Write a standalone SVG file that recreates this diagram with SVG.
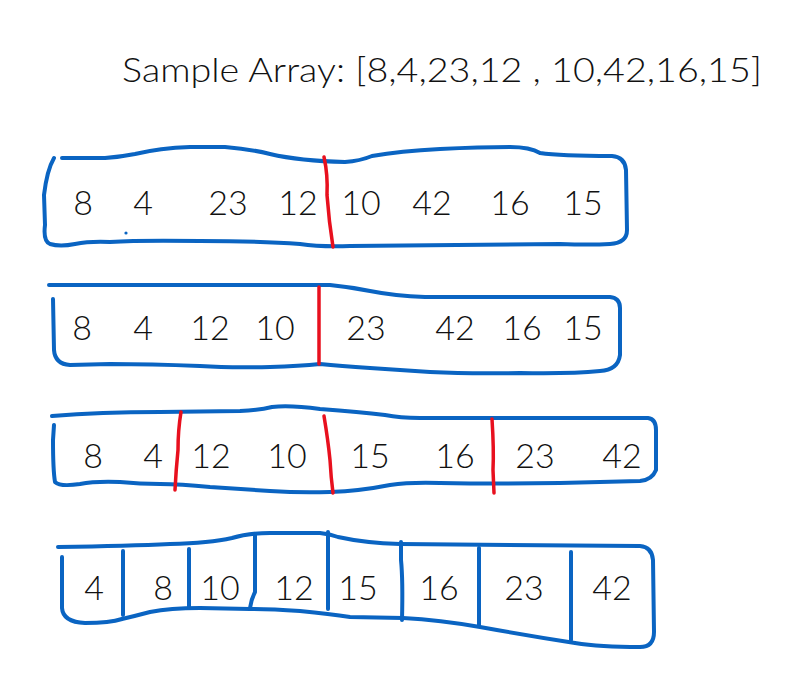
<svg xmlns="http://www.w3.org/2000/svg" width="805" height="689" viewBox="0 0 805 689">
<style>
.box{fill:none;stroke:#0a64c2;stroke-width:4;stroke-linecap:round;stroke-linejoin:round}
.red{fill:none;stroke:#e8101e;stroke-width:3.5;stroke-linecap:round}
.num{font-family:Lato,"Liberation Sans",sans-serif;font-weight:300;font-size:34px;fill:#111;text-anchor:middle}
.title{font-family:Lato,"Liberation Sans",sans-serif;font-weight:300;font-size:34px;fill:#111}
</style>
<rect width="805" height="689" fill="#fff"/>
<g id="title"><text class="title" x="122" y="82" textLength="640" lengthAdjust="spacingAndGlyphs">Sample Array: [8,4,23,12 , 10,42,16,15]</text></g>

<g id="row1">
<path class="box" d="M62,158 L105,158 Q120,157 135,154 Q160,148 190,147 L225,147 Q250,149 270,154 Q300,161 345,162 Q360,161 372,156 Q400,151 440,149 Q480,147 510,147 Q530,147 540,153 Q560,156 612,156 Q625,157 626,170 L627,230 Q627,243 610,244 Q590,245 560,244 L350,246 Q320,247 300,244 Q260,241 200,241 Q140,240 110,242 Q90,241 75,244 Q60,247 50,244 Q43,241 45,225 L44,195 Q47,170 54,158"/>
<path class="red" d="M324,157 Q328,175 327,195 Q329,222 333,247"/>
<circle cx="126" cy="233" r="1.6" fill="#0a64c2"/>
<text class="num" x="83" y="215">8</text>
<text class="num" x="143" y="215">4</text>
<text class="num" x="228" y="215">23</text>
<text class="num" x="298" y="215">12</text>
<text class="num" x="361" y="215">10</text>
<text class="num" x="432" y="215">42</text>
<text class="num" x="510" y="215">16</text>
<text class="num" x="583" y="215">15</text>
</g>

<g id="row2">
<path class="box" d="M49,285 L330,285 Q350,287 370,291 Q395,296 425,297 L610,297 Q620,298 620,308 L620,355 Q618,370 600,371 Q570,374 520,373 Q470,374 430,372 Q400,370 370,368 Q340,366 320,364 Q300,366 270,367 Q230,368 200,366 Q150,364 110,364 L70,365 Q55,364 54,350 L53,299"/>
<path class="red" d="M319,287 L319,364"/>
<text class="num" x="82" y="340">8</text>
<text class="num" x="143" y="340">4</text>
<text class="num" x="210" y="340">12</text>
<text class="num" x="275" y="340">10</text>
<text class="num" x="366" y="340">23</text>
<text class="num" x="455" y="340">42</text>
<text class="num" x="522" y="340">16</text>
<text class="num" x="583" y="340">15</text>
</g>

<g id="row3">
<path class="box" d="M52,416 Q100,412 160,412 L240,411 Q260,410 272,407 Q290,405 320,409 Q360,412 385,415 Q400,418 420,418 L648,418 Q656,419 656,430 L656,470 Q652,480 640,481 L560,483 Q500,484 440,483 Q410,482 390,485 Q360,491 330,492 Q300,493 270,491 Q240,489 210,487 Q180,484 160,484 Q140,484 120,482 Q95,481 80,484 Q60,487 55,482 Q53,470 53,440 L54,425"/>
<path class="red" d="M181,412 Q178,430 178,450 Q176,470 175,490"/>
<path class="red" d="M324,416 Q328,440 330,460 Q331,478 333,493"/>
<path class="red" d="M492,419 Q494,450 493,470 L494,493"/>
<text class="num" x="93" y="468">8</text>
<text class="num" x="153" y="468">4</text>
<text class="num" x="211" y="468">12</text>
<text class="num" x="287" y="468">10</text>
<text class="num" x="370" y="468">15</text>
<text class="num" x="455" y="468">16</text>
<text class="num" x="535" y="468">23</text>
<text class="num" x="622" y="468">42</text>
</g>

<g id="row4">
<path class="box" d="M58,547 Q130,546 170,544 Q210,543 232,538 Q248,533 270,533 L320,533 Q330,534 338,537 Q365,543 400,544 L640,546 Q652,547 653,560 L654,632 Q654,647 640,647 Q600,647 575,643 Q530,636 480,627 Q440,620 403,618 L350,617 Q330,614 300,611 Q270,609 250,609 L200,608 Q170,608 150,612 Q135,616 122,619 Q110,623 85,623 Q63,622 62,608 L62,557"/>
<path class="box" d="M123,551 L123,615"/>
<path class="box" d="M189,549 L189,607"/>
<path class="box" d="M255,535 L255,592 Q251,600 250,608"/>
<path class="box" d="M328,532 L328,609"/>
<path class="box" d="M401,542 L401,560 Q403,580 402,620"/>
<path class="box" d="M479,548 L479,626"/>
<path class="box" d="M571,552 L571,640"/>
<text class="num" x="94" y="600">4</text>
<text class="num" x="163" y="600">8</text>
<text class="num" x="220" y="600">10</text>
<text class="num" x="294" y="600">12</text>
<text class="num" x="358" y="600">15</text>
<text class="num" x="439" y="600">16</text>
<text class="num" x="524" y="600">23</text>
<text class="num" x="612" y="600">42</text>
</g>
</svg>
